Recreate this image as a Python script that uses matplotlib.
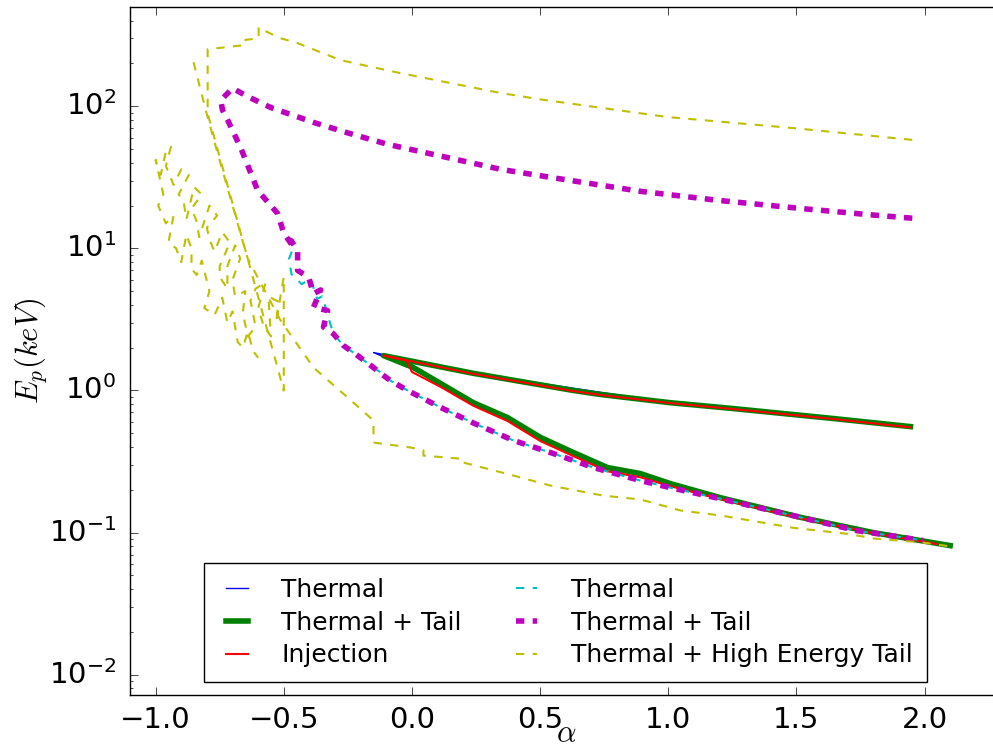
"""
Peak energy vs. low-energy index for the thermal / tail / injection runs.

  python plot.py        # writes out.png
"""
import numpy as np
import matplotlib
matplotlib.use("Agg")
import matplotlib.pyplot as plt

# --- Thermal (blue, solid) -------------------------------------------------
th_x = [1.945, 1.009, 0.240, -0.150, 0.033, 0.112, 0.240, 0.373, 0.502,
        0.630, 0.763, 0.892, 1.009, 1.204, 1.516, 1.800, 2.050]
th_y = [0.557, 0.820, 1.32, 1.85, 1.34, 1.10, 0.82, 0.645, 0.467,
        0.366, 0.287, 0.260, 0.221, 0.176, 0.128, 0.100, 0.083]

# --- Thermal + Tail (green, thick solid) -----------------------------------
tt_x = [1.945, 1.644, 1.254, 1.009, 0.736, 0.630, 0.240, -0.111,
        0.006, 0.112, 0.240, 0.373, 0.502, 0.630, 0.763, 0.892, 1.009,
        1.204, 1.516, 1.800, 2.100]
tt_y = [0.557, 0.635, 0.746, 0.820, 0.937, 1.00, 1.32, 1.76,
        1.45, 1.12, 0.82, 0.645, 0.467, 0.366, 0.287, 0.260, 0.221,
        0.176, 0.128, 0.100, 0.081]

# --- Injection (red, solid) ------------------------------------------------
inj_x = [1.945, 1.644, 1.254, 1.009, 0.736, 0.630, 0.240, -0.111,
         -0.020, 0.000, 0.112, 0.240, 0.373, 0.502, 0.630, 0.763, 0.892,
         1.009, 1.204, 1.516, 1.800, 2.050]
inj_y = [0.550, 0.630, 0.740, 0.815, 0.930, 0.99, 1.31, 1.76,
         1.62, 1.35, 1.06, 0.78, 0.61, 0.44, 0.345, 0.270, 0.245,
         0.212, 0.172, 0.126, 0.099, 0.083]

# --- Thermal (cyan, dashed) ------------------------------------------------
cth_x = [1.952, 1.777, 1.516, 1.192, 0.892, 0.541, 0.346, -0.095, -0.251,
         -0.384, -0.500, -0.551, -0.641, -0.700, -0.746, -0.739, -0.719,
         -0.668, -0.602, -0.524, -0.500, -0.462, -0.480, -0.470, -0.430,
         -0.395, -0.370, -0.350, -0.330, -0.320, -0.306, -0.267, -0.212,
         -0.150, -0.122, -0.083, -0.017, 0.112, 0.240, 0.396, 0.552, 0.708,
         0.892, 1.009, 1.204, 1.516, 1.738, 1.995]
cth_y = [16.3, 17.3, 19.1, 21.8, 25.2, 31.6, 36.0, 54.0, 65.0,
         77.0, 91.0, 98.0, 117.0, 134.0, 110.0, 94.0, 80.0,
         51.0, 25.6, 17.6, 12.8, 10.2, 8.4, 6.6, 5.6,
         6.1, 4.4, 4.6, 3.5, 3.0, 2.5, 2.07, 1.76,
         1.45, 1.34, 1.17, 1.00, 0.76, 0.59, 0.445, 0.360, 0.287,
         0.232, 0.207, 0.173, 0.128, 0.103, 0.088]

# --- Thermal + Tail (magenta, thick dashed) --------------------------------
mtt_x = [1.952, 1.777, 1.516, 1.192, 0.892, 0.541, 0.346, -0.095, -0.251,
         -0.384, -0.500, -0.551, -0.641, -0.700, -0.746, -0.739, -0.719,
         -0.668, -0.602, -0.524, -0.500, -0.462, -0.473, -0.446, -0.446,
         -0.403, -0.384, -0.356, -0.384, -0.329, -0.345, -0.306, -0.267,
         -0.212, -0.150, -0.122, -0.083, -0.017, 0.112, 0.240, 0.396,
         0.552, 0.708, 0.892, 1.009, 1.204, 1.516, 1.738, 1.995]
mtt_y = [16.3, 17.3, 19.1, 21.8, 25.2, 31.6, 36.0, 54.0, 65.0,
         77.0, 91.0, 98.0, 117.0, 134.0, 110.0, 94.0, 80.0,
         51.0, 25.6, 17.6, 12.8, 10.2, 11.4, 9.7, 7.0,
         6.25, 4.8, 5.1, 3.85, 3.65, 2.8, 2.5, 2.07,
         1.76, 1.45, 1.32, 1.17, 1.00, 0.76, 0.59, 0.445,
         0.360, 0.287, 0.232, 0.207, 0.173, 0.128, 0.103, 0.088]

# --- Thermal + High Energy Tail (yellow, dashed), two separate tracks ------
he1_x = [-0.852, -0.801, -0.758, -0.641, -0.512, -0.384, -0.259, -0.150,
         -0.150, -0.005, 0.045, 0.045, 0.201, 0.201, 0.396, 0.541, 0.747,
         0.892, 1.048, 1.204, 1.488, 1.699, 1.800, 1.995, 2.100]
he1_y = [204.0, 89.0, 46.7, 8.5, 3.1, 1.45, 0.92, 0.615,
         0.430, 0.397, 0.380, 0.348, 0.330, 0.311, 0.252, 0.214, 0.182,
         0.171, 0.143, 0.132, 0.108, 0.098, 0.091, 0.085, 0.080]

he2_x = [1.952, 1.496, 0.997, 0.498, 0.346, -0.044, -0.150, -0.278, -0.446,
         -0.512, -0.563, -0.598, -0.598, -0.657, -0.657, -0.797, -0.797,
         -0.668, -0.500, -0.500,
         -0.53, -0.52, -0.56, -0.55, -0.58, -0.60, -0.57, -0.61, -0.63,
         -0.61, -0.64, -0.66, -0.65, -0.69, -0.70, -0.67, -0.69, -0.72,
         -0.72, -0.75, -0.75, -0.71, -0.74, -0.77, -0.79, -0.80, -0.76,
         -0.79, -0.83, -0.84, -0.86, -0.82, -0.85, -0.88, -0.89, -0.91,
         -0.87, -0.90, -0.93, -0.94, -0.96, -0.94, -0.96, -0.98, -0.99,
         -1.00, -0.97, -0.99, -0.96, -0.93, -0.95, -0.92, -0.90, -0.88,
         -0.86, -0.86, -0.84, -0.82, -0.79, -0.81, -0.77, -0.74, -0.72,
         -0.70, -0.68, -0.66, -0.64, -0.62, -0.60]
he2_y = [58.0, 70.0, 84.0, 112.0, 124.0, 171.0, 188.0, 211.0, 278.0,
         301.0, 332.0, 360.0, 301.0, 292.0, 269.0, 252.0, 89.0,
         12.8, 1.0, 6.3,
         3.0, 4.2, 4.6, 2.4, 2.9, 3.8, 5.8, 5.2, 4.3,
         2.8, 2.4, 3.5, 5.0, 4.6, 6.0, 8.5, 10.5, 7.5,
         5.2, 6.3, 7.5, 11.0, 13.0, 9.5, 11.5, 14.0, 17.0,
         20.0, 12.0, 15.5, 19.0, 24.0, 27.0, 16.0, 21.0, 24.0,
         33.0, 36.0, 28.0, 31.0, 38.0, 52.0, 48.0, 33.0, 36.0,
         42.0, 24.0, 20.0, 15.0, 17.0, 11.0, 10.0, 8.0, 12.5,
         10.0, 7.2, 6.5, 8.2, 5.0, 3.8, 3.4, 4.5, 3.0,
         3.6, 2.2, 2.0, 2.6, 1.9, 1.7]


def main():
    plt.style.use("classic")
    plt.rcParams.update({
        "figure.facecolor": "white",
        "savefig.facecolor": "white",
        "font.family": ["DejaVu Sans"],
        "mathtext.fontset": "cm",
        "xtick.major.size": 5.5, "ytick.major.size": 5.5,
        "xtick.minor.size": 2.5, "ytick.minor.size": 2.5,
    })

    fig = plt.figure(figsize=(9.93, 7.46), dpi=100)
    ax = fig.add_axes([0.1309, 0.0684, 0.8776, 0.9223])

    ax.plot(th_x, th_y, "b-", lw=1.0, label="Thermal")
    ax.plot(tt_x, tt_y, "g-", lw=4.0, label="Thermal + Tail")
    ax.plot(inj_x, inj_y, "r-", lw=1.5, label="Injection")
    ax.plot(cth_x, cth_y, "c--", lw=1.5, label="Thermal")
    ax.plot(mtt_x, mtt_y, "m--", lw=4.0, label="Thermal + Tail")
    ax.plot(he1_x, he1_y, "y--", lw=1.5, label="Thermal + High Energy Tail")
    ax.plot(he2_x, he2_y, "y--", lw=1.5)

    ax.set_yscale("log")
    ax.set_xlim(-1.1, 2.3)
    ax.set_ylim(7.2e-3, 5.0e2)
    ax.set_xticks(np.arange(-1.0, 2.01, 0.5))
    ax.tick_params(labelsize=21)
    ax.tick_params(axis="x", pad=8)
    ax.tick_params(axis="y", which="major", pad=10)

    ax.set_xlabel(r"$\alpha$", fontsize=22, labelpad=-11)
    ax.set_ylabel(r"$E_p(keV)$", fontsize=22, labelpad=0)

    ax.legend(loc="lower center", ncol=2, fontsize=18, frameon=True,
              fancybox=False, borderaxespad=0.5, borderpad=0.6,
              handlelength=1.45, handletextpad=1.05, labelspacing=0.35,
              columnspacing=1.85)

    fig.savefig("out.png", dpi=100)
    plt.close(fig)


if __name__ == "__main__":
    main()
